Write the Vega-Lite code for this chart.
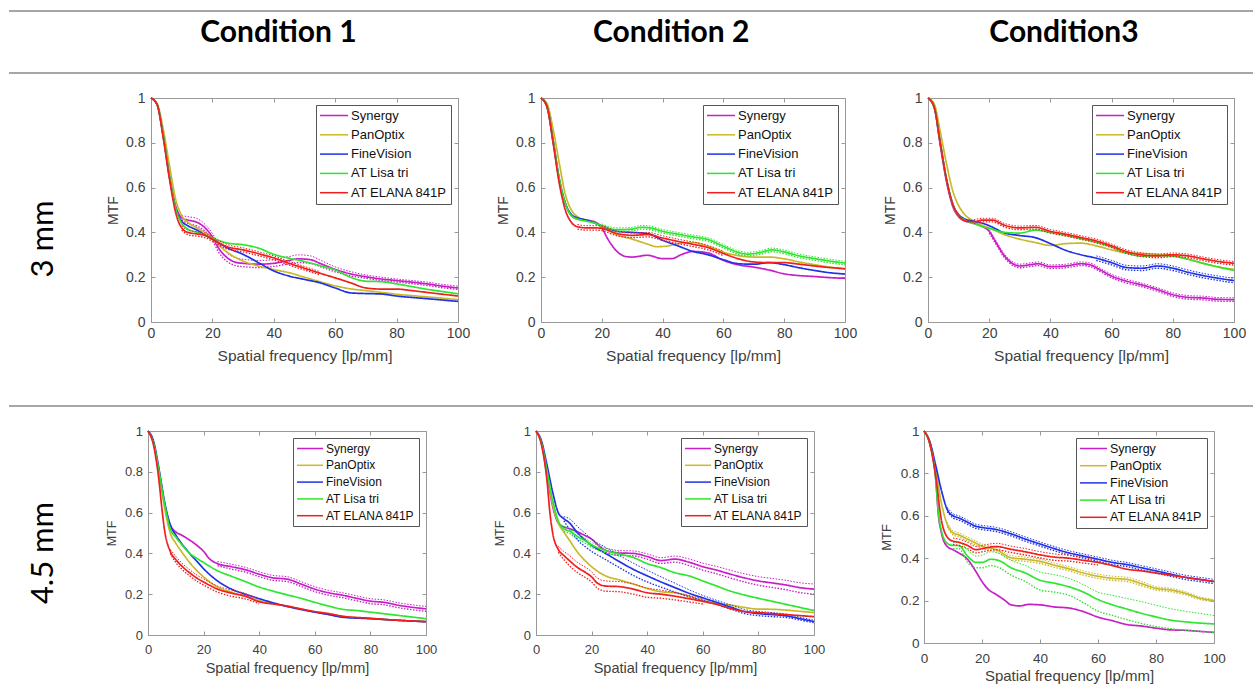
{
"$schema": "https://vega.github.io/schema/vega-lite/v6.json",
"background": "white",
"padding": {"left": 8, "top": 10, "right": 0, "bottom": 0},
"config": {
  "view": {"stroke": null},
  "axis": {"grid": false, "domainColor": "#999999", "tickColor": "#999999", "labelColor": "#404040", "titleColor": "#404040", "labelFont": "Liberation Sans", "titleFont": "Liberation Sans", "titleFontWeight": "normal", "tickSize": -4, "labelFlush": false, "labelOverlap": false},
  "legend": {"orient": "top-right", "offset": 7, "padding": 4, "strokeColor": "#555555", "fillColor": "white", "labelFont": "Liberation Sans", "labelColor": "#111111", "symbolStrokeWidth": 1.5, "symbolSize": 121, "symbolOffset": 0}
},
"datasets": {
"a1": [
{"s":"Synergy","f":0,"m":1},{"s":"Synergy","f":2,"m":0.97},{"s":"Synergy","f":4,"m":0.83},{"s":"Synergy","f":6,"m":0.65},{"s":"Synergy","f":8,"m":0.52},
{"s":"Synergy","f":10,"m":0.465,"lo":0.455,"hi":0.475},{"s":"Synergy","f":12,"m":0.455,"lo":0.44,"hi":0.47},{"s":"Synergy","f":15,"m":0.445,"lo":0.428,"hi":0.462},{"s":"Synergy","f":18,"m":0.415,"lo":0.4,"hi":0.43},{"s":"Synergy","f":20,"m":0.38,"lo":0.365,"hi":0.395},{"s":"Synergy","f":22,"m":0.33,"lo":0.312,"hi":0.35},{"s":"Synergy","f":25,"m":0.285,"lo":0.268,"hi":0.305},{"s":"Synergy","f":28,"m":0.265,"lo":0.25,"hi":0.285},{"s":"Synergy","f":30,"m":0.262,"lo":0.247,"hi":0.28},{"s":"Synergy","f":35,"m":0.258,"lo":0.243,"hi":0.275},{"s":"Synergy","f":40,"m":0.262,"lo":0.248,"hi":0.278},{"s":"Synergy","f":45,"m":0.275,"lo":0.26,"hi":0.292},{"s":"Synergy","f":48,"m":0.282,"lo":0.265,"hi":0.3},{"s":"Synergy","f":52,"m":0.278,"lo":0.262,"hi":0.295},{"s":"Synergy","f":55,"m":0.262,"lo":0.248,"hi":0.277},{"s":"Synergy","f":60,"m":0.235,"lo":0.224,"hi":0.246},{"s":"Synergy","f":65,"m":0.215,"lo":0.206,"hi":0.225},{"s":"Synergy","f":70,"m":0.202,"lo":0.195,"hi":0.21},{"s":"Synergy","f":75,"m":0.192,"lo":0.185,"hi":0.2},{"s":"Synergy","f":80,"m":0.185,"lo":0.178,"hi":0.192},{"s":"Synergy","f":85,"m":0.178,"lo":0.171,"hi":0.185},{"s":"Synergy","f":90,"m":0.17,"lo":0.163,"hi":0.178},{"s":"Synergy","f":95,"m":0.16,"lo":0.153,"hi":0.168},{"s":"Synergy","f":100,"m":0.152,"lo":0.145,"hi":0.16},
{"s":"PanOptix","f":0,"m":1},{"s":"PanOptix","f":2,"m":0.975},{"s":"PanOptix","f":4,"m":0.86},{"s":"PanOptix","f":6,"m":0.7},{"s":"PanOptix","f":8,"m":0.55},{"s":"PanOptix","f":10,"m":0.475},{"s":"PanOptix","f":12,"m":0.445},{"s":"PanOptix","f":15,"m":0.42},{"s":"PanOptix","f":18,"m":0.395},{"s":"PanOptix","f":20,"m":0.37},{"s":"PanOptix","f":25,"m":0.31},{"s":"PanOptix","f":30,"m":0.272},{"s":"PanOptix","f":35,"m":0.25},{"s":"PanOptix","f":40,"m":0.234},{"s":"PanOptix","f":45,"m":0.22},{"s":"PanOptix","f":50,"m":0.2},{"s":"PanOptix","f":55,"m":0.18},{"s":"PanOptix","f":60,"m":0.162},{"s":"PanOptix","f":65,"m":0.148},{"s":"PanOptix","f":70,"m":0.14},{"s":"PanOptix","f":75,"m":0.132},{"s":"PanOptix","f":80,"m":0.124},{"s":"PanOptix","f":90,"m":0.112},{"s":"PanOptix","f":100,"m":0.1},
{"s":"FineVision","f":0,"m":1},{"s":"FineVision","f":2,"m":0.97},{"s":"FineVision","f":4,"m":0.83},{"s":"FineVision","f":6,"m":0.65},{"s":"FineVision","f":8,"m":0.51},{"s":"FineVision","f":10,"m":0.45},{"s":"FineVision","f":12,"m":0.43},{"s":"FineVision","f":15,"m":0.41},{"s":"FineVision","f":18,"m":0.385},{"s":"FineVision","f":20,"m":0.37},{"s":"FineVision","f":25,"m":0.33},{"s":"FineVision","f":30,"m":0.302},{"s":"FineVision","f":35,"m":0.265},{"s":"FineVision","f":40,"m":0.228},{"s":"FineVision","f":45,"m":0.205},{"s":"FineVision","f":50,"m":0.19},{"s":"FineVision","f":55,"m":0.175},{"s":"FineVision","f":60,"m":0.152},{"s":"FineVision","f":65,"m":0.13},{"s":"FineVision","f":70,"m":0.127},{"s":"FineVision","f":75,"m":0.125},{"s":"FineVision","f":80,"m":0.116},{"s":"FineVision","f":90,"m":0.104},{"s":"FineVision","f":100,"m":0.092},
{"s":"AT Lisa tri","f":0,"m":1},{"s":"AT Lisa tri","f":2,"m":0.97},{"s":"AT Lisa tri","f":4,"m":0.83},{"s":"AT Lisa tri","f":6,"m":0.65},{"s":"AT Lisa tri","f":8,"m":0.51},{"s":"AT Lisa tri","f":10,"m":0.44},{"s":"AT Lisa tri","f":12,"m":0.415},{"s":"AT Lisa tri","f":15,"m":0.4},{"s":"AT Lisa tri","f":18,"m":0.385},{"s":"AT Lisa tri","f":20,"m":0.375},{"s":"AT Lisa tri","f":25,"m":0.352},{"s":"AT Lisa tri","f":30,"m":0.345},{"s":"AT Lisa tri","f":35,"m":0.33},{"s":"AT Lisa tri","f":40,"m":0.302},{"s":"AT Lisa tri","f":45,"m":0.285},{"s":"AT Lisa tri","f":50,"m":0.27},{"s":"AT Lisa tri","f":55,"m":0.252},{"s":"AT Lisa tri","f":60,"m":0.232},{"s":"AT Lisa tri","f":65,"m":0.2},{"s":"AT Lisa tri","f":70,"m":0.182},{"s":"AT Lisa tri","f":75,"m":0.18},{"s":"AT Lisa tri","f":80,"m":0.17},{"s":"AT Lisa tri","f":85,"m":0.158},{"s":"AT Lisa tri","f":90,"m":0.146},{"s":"AT Lisa tri","f":95,"m":0.136},{"s":"AT Lisa tri","f":100,"m":0.126},
{"s":"AT ELANA 841P","f":0,"m":1},{"s":"AT ELANA 841P","f":2,"m":0.97},{"s":"AT ELANA 841P","f":4,"m":0.82},{"s":"AT ELANA 841P","f":6,"m":0.64},{"s":"AT ELANA 841P","f":8,"m":0.49},{"s":"AT ELANA 841P","f":10,"m":0.42,"lo":0.41,"hi":0.43},{"s":"AT ELANA 841P","f":12,"m":0.4,"lo":0.39,"hi":0.41},{"s":"AT ELANA 841P","f":15,"m":0.393,"lo":0.383,"hi":0.403},{"s":"AT ELANA 841P","f":18,"m":0.385,"lo":0.375,"hi":0.395},{"s":"AT ELANA 841P","f":20,"m":0.37,"lo":0.36,"hi":0.38},{"s":"AT ELANA 841P","f":25,"m":0.335,"lo":0.325,"hi":0.345},{"s":"AT ELANA 841P","f":30,"m":0.322,"lo":0.313,"hi":0.331},{"s":"AT ELANA 841P","f":35,"m":0.305,"lo":0.296,"hi":0.314},{"s":"AT ELANA 841P","f":40,"m":0.286,"lo":0.277,"hi":0.295},{"s":"AT ELANA 841P","f":45,"m":0.262,"lo":0.254,"hi":0.27},{"s":"AT ELANA 841P","f":50,"m":0.24,"lo":0.232,"hi":0.248},{"s":"AT ELANA 841P","f":55,"m":0.218,"lo":0.211,"hi":0.225},{"s":"AT ELANA 841P","f":60,"m":0.197},{"s":"AT ELANA 841P","f":65,"m":0.175},{"s":"AT ELANA 841P","f":70,"m":0.152},{"s":"AT ELANA 841P","f":75,"m":0.147},{"s":"AT ELANA 841P","f":80,"m":0.147},{"s":"AT ELANA 841P","f":85,"m":0.14},{"s":"AT ELANA 841P","f":90,"m":0.132},{"s":"AT ELANA 841P","f":100,"m":0.116}
],
"a2": [
{"s":"Synergy","f":0,"m":1},{"s":"Synergy","f":2,"m":0.96},{"s":"Synergy","f":4,"m":0.8},{"s":"Synergy","f":6,"m":0.63},{"s":"Synergy","f":8,"m":0.53},{"s":"Synergy","f":10,"m":0.475},{"s":"Synergy","f":12,"m":0.46},{"s":"Synergy","f":15,"m":0.455},{"s":"Synergy","f":18,"m":0.445},{"s":"Synergy","f":20,"m":0.42},{"s":"Synergy","f":22,"m":0.37},{"s":"Synergy","f":25,"m":0.315},{"s":"Synergy","f":28,"m":0.292},{"s":"Synergy","f":30,"m":0.29},{"s":"Synergy","f":35,"m":0.298},{"s":"Synergy","f":40,"m":0.283},{"s":"Synergy","f":43,"m":0.283},{"s":"Synergy","f":46,"m":0.3},{"s":"Synergy","f":50,"m":0.315},{"s":"Synergy","f":55,"m":0.308},{"s":"Synergy","f":60,"m":0.275},{"s":"Synergy","f":65,"m":0.255},{"s":"Synergy","f":70,"m":0.245},{"s":"Synergy","f":75,"m":0.232},{"s":"Synergy","f":80,"m":0.215},{"s":"Synergy","f":85,"m":0.207},{"s":"Synergy","f":90,"m":0.203},{"s":"Synergy","f":95,"m":0.198},{"s":"Synergy","f":100,"m":0.195},
{"s":"PanOptix","f":0,"m":1},{"s":"PanOptix","f":2,"m":0.975},{"s":"PanOptix","f":4,"m":0.86},{"s":"PanOptix","f":6,"m":0.71},{"s":"PanOptix","f":8,"m":0.57},{"s":"PanOptix","f":10,"m":0.5},{"s":"PanOptix","f":12,"m":0.47},{"s":"PanOptix","f":15,"m":0.455},{"s":"PanOptix","f":18,"m":0.44},{"s":"PanOptix","f":20,"m":0.425},{"s":"PanOptix","f":25,"m":0.39},{"s":"PanOptix","f":30,"m":0.37},{"s":"PanOptix","f":35,"m":0.348},{"s":"PanOptix","f":38,"m":0.336},{"s":"PanOptix","f":42,"m":0.34},{"s":"PanOptix","f":46,"m":0.352},{"s":"PanOptix","f":50,"m":0.355},{"s":"PanOptix","f":55,"m":0.338},{"s":"PanOptix","f":60,"m":0.312},{"s":"PanOptix","f":65,"m":0.296},{"s":"PanOptix","f":70,"m":0.29},{"s":"PanOptix","f":75,"m":0.29},{"s":"PanOptix","f":80,"m":0.282},{"s":"PanOptix","f":85,"m":0.268},{"s":"PanOptix","f":90,"m":0.256},{"s":"PanOptix","f":95,"m":0.245},{"s":"PanOptix","f":100,"m":0.237},
{"s":"FineVision","f":0,"m":1},{"s":"FineVision","f":2,"m":0.96},{"s":"FineVision","f":4,"m":0.81},{"s":"FineVision","f":6,"m":0.64},{"s":"FineVision","f":8,"m":0.53},{"s":"FineVision","f":10,"m":0.48},{"s":"FineVision","f":12,"m":0.465},{"s":"FineVision","f":15,"m":0.455},{"s":"FineVision","f":18,"m":0.44},{"s":"FineVision","f":20,"m":0.43},{"s":"FineVision","f":25,"m":0.405},{"s":"FineVision","f":30,"m":0.4},{"s":"FineVision","f":35,"m":0.395},{"s":"FineVision","f":40,"m":0.365},{"s":"FineVision","f":45,"m":0.34},{"s":"FineVision","f":50,"m":0.315},{"s":"FineVision","f":55,"m":0.3},{"s":"FineVision","f":60,"m":0.278},{"s":"FineVision","f":65,"m":0.26},{"s":"FineVision","f":70,"m":0.258},{"s":"FineVision","f":75,"m":0.265},{"s":"FineVision","f":80,"m":0.256},{"s":"FineVision","f":85,"m":0.242},{"s":"FineVision","f":90,"m":0.23},{"s":"FineVision","f":95,"m":0.22},{"s":"FineVision","f":100,"m":0.214},
{"s":"AT Lisa tri","f":0,"m":1},{"s":"AT Lisa tri","f":2,"m":0.96},{"s":"AT Lisa tri","f":4,"m":0.81},{"s":"AT Lisa tri","f":6,"m":0.64},{"s":"AT Lisa tri","f":8,"m":0.53},{"s":"AT Lisa tri","f":10,"m":0.475},{"s":"AT Lisa tri","f":12,"m":0.46},{"s":"AT Lisa tri","f":15,"m":0.45},{"s":"AT Lisa tri","f":18,"m":0.44},{"s":"AT Lisa tri","f":20,"m":0.43,"lo":0.422,"hi":0.438},{"s":"AT Lisa tri","f":25,"m":0.412,"lo":0.404,"hi":0.42},{"s":"AT Lisa tri","f":30,"m":0.415,"lo":0.407,"hi":0.423},{"s":"AT Lisa tri","f":33,"m":0.423,"lo":0.415,"hi":0.431},{"s":"AT Lisa tri","f":36,"m":0.42,"lo":0.412,"hi":0.428},{"s":"AT Lisa tri","f":40,"m":0.405,"lo":0.397,"hi":0.413},{"s":"AT Lisa tri","f":45,"m":0.392,"lo":0.384,"hi":0.4},{"s":"AT Lisa tri","f":50,"m":0.38,"lo":0.372,"hi":0.388},{"s":"AT Lisa tri","f":55,"m":0.368,"lo":0.36,"hi":0.376},{"s":"AT Lisa tri","f":60,"m":0.338,"lo":0.33,"hi":0.346},{"s":"AT Lisa tri","f":65,"m":0.31,"lo":0.302,"hi":0.318},{"s":"AT Lisa tri","f":68,"m":0.303,"lo":0.295,"hi":0.311},{"s":"AT Lisa tri","f":72,"m":0.31,"lo":0.302,"hi":0.318},{"s":"AT Lisa tri","f":76,"m":0.322,"lo":0.314,"hi":0.33},{"s":"AT Lisa tri","f":80,"m":0.313,"lo":0.305,"hi":0.321},{"s":"AT Lisa tri","f":85,"m":0.295,"lo":0.287,"hi":0.303},{"s":"AT Lisa tri","f":90,"m":0.283,"lo":0.275,"hi":0.291},{"s":"AT Lisa tri","f":95,"m":0.272,"lo":0.264,"hi":0.28},{"s":"AT Lisa tri","f":100,"m":0.263,"lo":0.255,"hi":0.271},
{"s":"AT ELANA 841P","f":0,"m":1},{"s":"AT ELANA 841P","f":2,"m":0.96},{"s":"AT ELANA 841P","f":4,"m":0.8},{"s":"AT ELANA 841P","f":6,"m":0.62},{"s":"AT ELANA 841P","f":8,"m":0.5},{"s":"AT ELANA 841P","f":10,"m":0.445},{"s":"AT ELANA 841P","f":12,"m":0.425,"lo":0.415,"hi":0.435},{"s":"AT ELANA 841P","f":15,"m":0.42,"lo":0.41,"hi":0.43},{"s":"AT ELANA 841P","f":18,"m":0.42,"lo":0.41,"hi":0.43},{"s":"AT ELANA 841P","f":20,"m":0.418,"lo":0.408,"hi":0.428},{"s":"AT ELANA 841P","f":25,"m":0.395,"lo":0.385,"hi":0.405},{"s":"AT ELANA 841P","f":30,"m":0.387,"lo":0.377,"hi":0.397},{"s":"AT ELANA 841P","f":35,"m":0.39,"lo":0.38,"hi":0.4},{"s":"AT ELANA 841P","f":40,"m":0.375,"lo":0.365,"hi":0.385},{"s":"AT ELANA 841P","f":45,"m":0.36,"lo":0.35,"hi":0.37},{"s":"AT ELANA 841P","f":50,"m":0.347,"lo":0.337,"hi":0.357},{"s":"AT ELANA 841P","f":55,"m":0.332,"lo":0.322,"hi":0.342},{"s":"AT ELANA 841P","f":60,"m":0.306,"lo":0.296,"hi":0.316},{"s":"AT ELANA 841P","f":65,"m":0.282},{"s":"AT ELANA 841P","f":70,"m":0.268},{"s":"AT ELANA 841P","f":75,"m":0.265},{"s":"AT ELANA 841P","f":80,"m":0.265},{"s":"AT ELANA 841P","f":85,"m":0.258},{"s":"AT ELANA 841P","f":90,"m":0.25},{"s":"AT ELANA 841P","f":95,"m":0.243},{"s":"AT ELANA 841P","f":100,"m":0.238}
],
"a3": [
{"s":"Synergy","f":0,"m":1},{"s":"Synergy","f":2,"m":0.96},{"s":"Synergy","f":4,"m":0.79},{"s":"Synergy","f":6,"m":0.63},{"s":"Synergy","f":8,"m":0.52},{"s":"Synergy","f":10,"m":0.47},{"s":"Synergy","f":12,"m":0.452},{"s":"Synergy","f":15,"m":0.44},{"s":"Synergy","f":18,"m":0.425},{"s":"Synergy","f":20,"m":0.405,"lo":0.397,"hi":0.413},{"s":"Synergy","f":22,"m":0.36,"lo":0.352,"hi":0.368},{"s":"Synergy","f":25,"m":0.295,"lo":0.287,"hi":0.303},{"s":"Synergy","f":28,"m":0.258,"lo":0.25,"hi":0.266},{"s":"Synergy","f":30,"m":0.25,"lo":0.242,"hi":0.258},{"s":"Synergy","f":33,"m":0.255,"lo":0.247,"hi":0.263},{"s":"Synergy","f":36,"m":0.26,"lo":0.252,"hi":0.268},{"s":"Synergy","f":40,"m":0.247,"lo":0.239,"hi":0.255},{"s":"Synergy","f":45,"m":0.25,"lo":0.242,"hi":0.258},{"s":"Synergy","f":50,"m":0.26,"lo":0.252,"hi":0.268},{"s":"Synergy","f":53,"m":0.255,"lo":0.247,"hi":0.263},{"s":"Synergy","f":56,"m":0.235,"lo":0.227,"hi":0.243},{"s":"Synergy","f":60,"m":0.205,"lo":0.197,"hi":0.213},{"s":"Synergy","f":65,"m":0.182,"lo":0.174,"hi":0.19},{"s":"Synergy","f":70,"m":0.165,"lo":0.157,"hi":0.173},{"s":"Synergy","f":75,"m":0.145,"lo":0.137,"hi":0.153},{"s":"Synergy","f":80,"m":0.122,"lo":0.114,"hi":0.13},{"s":"Synergy","f":85,"m":0.11,"lo":0.102,"hi":0.118},{"s":"Synergy","f":90,"m":0.107,"lo":0.099,"hi":0.115},{"s":"Synergy","f":95,"m":0.101,"lo":0.093,"hi":0.109},{"s":"Synergy","f":100,"m":0.1,"lo":0.092,"hi":0.108},
{"s":"PanOptix","f":0,"m":1},{"s":"PanOptix","f":2,"m":0.975},{"s":"PanOptix","f":4,"m":0.85},{"s":"PanOptix","f":6,"m":0.71},{"s":"PanOptix","f":8,"m":0.59},{"s":"PanOptix","f":10,"m":0.52},{"s":"PanOptix","f":12,"m":0.48},{"s":"PanOptix","f":15,"m":0.45},{"s":"PanOptix","f":18,"m":0.43},{"s":"PanOptix","f":20,"m":0.42},{"s":"PanOptix","f":25,"m":0.39},{"s":"PanOptix","f":30,"m":0.37},{"s":"PanOptix","f":35,"m":0.355},{"s":"PanOptix","f":40,"m":0.342},{"s":"PanOptix","f":45,"m":0.35},{"s":"PanOptix","f":50,"m":0.352},{"s":"PanOptix","f":55,"m":0.34},{"s":"PanOptix","f":60,"m":0.322},{"s":"PanOptix","f":65,"m":0.308},{"s":"PanOptix","f":70,"m":0.306},{"s":"PanOptix","f":75,"m":0.302},{"s":"PanOptix","f":80,"m":0.296},{"s":"PanOptix","f":85,"m":0.28},{"s":"PanOptix","f":90,"m":0.262},{"s":"PanOptix","f":95,"m":0.246},{"s":"PanOptix","f":100,"m":0.235},
{"s":"FineVision","f":0,"m":1},{"s":"FineVision","f":2,"m":0.96},{"s":"FineVision","f":4,"m":0.8},{"s":"FineVision","f":6,"m":0.64},{"s":"FineVision","f":8,"m":0.53},{"s":"FineVision","f":10,"m":0.48},{"s":"FineVision","f":12,"m":0.46},{"s":"FineVision","f":15,"m":0.45},{"s":"FineVision","f":18,"m":0.44},{"s":"FineVision","f":20,"m":0.43},{"s":"FineVision","f":25,"m":0.398},{"s":"FineVision","f":30,"m":0.386},{"s":"FineVision","f":35,"m":0.377},{"s":"FineVision","f":40,"m":0.35},{"s":"FineVision","f":45,"m":0.32},{"s":"FineVision","f":50,"m":0.3},{"s":"FineVision","f":55,"m":0.285,"lo":0.275,"hi":0.295},{"s":"FineVision","f":60,"m":0.265,"lo":0.255,"hi":0.275},{"s":"FineVision","f":65,"m":0.243,"lo":0.233,"hi":0.253},{"s":"FineVision","f":70,"m":0.24,"lo":0.23,"hi":0.25},{"s":"FineVision","f":75,"m":0.25,"lo":0.24,"hi":0.26},{"s":"FineVision","f":80,"m":0.24,"lo":0.23,"hi":0.25},{"s":"FineVision","f":85,"m":0.222,"lo":0.212,"hi":0.232},{"s":"FineVision","f":90,"m":0.207,"lo":0.197,"hi":0.217},{"s":"FineVision","f":95,"m":0.195,"lo":0.185,"hi":0.205},{"s":"FineVision","f":100,"m":0.185,"lo":0.175,"hi":0.195},
{"s":"AT Lisa tri","f":0,"m":1},{"s":"AT Lisa tri","f":2,"m":0.96},{"s":"AT Lisa tri","f":4,"m":0.8},{"s":"AT Lisa tri","f":6,"m":0.64},{"s":"AT Lisa tri","f":8,"m":0.53},{"s":"AT Lisa tri","f":10,"m":0.475},{"s":"AT Lisa tri","f":12,"m":0.455},{"s":"AT Lisa tri","f":15,"m":0.44},{"s":"AT Lisa tri","f":18,"m":0.425},{"s":"AT Lisa tri","f":20,"m":0.418},{"s":"AT Lisa tri","f":25,"m":0.4},{"s":"AT Lisa tri","f":30,"m":0.397},{"s":"AT Lisa tri","f":35,"m":0.41},{"s":"AT Lisa tri","f":40,"m":0.4},{"s":"AT Lisa tri","f":45,"m":0.387},{"s":"AT Lisa tri","f":50,"m":0.372},{"s":"AT Lisa tri","f":55,"m":0.356},{"s":"AT Lisa tri","f":60,"m":0.335},{"s":"AT Lisa tri","f":65,"m":0.307},{"s":"AT Lisa tri","f":70,"m":0.294},{"s":"AT Lisa tri","f":75,"m":0.296},{"s":"AT Lisa tri","f":80,"m":0.294},{"s":"AT Lisa tri","f":85,"m":0.28},{"s":"AT Lisa tri","f":90,"m":0.262},{"s":"AT Lisa tri","f":95,"m":0.245},{"s":"AT Lisa tri","f":100,"m":0.23},
{"s":"AT ELANA 841P","f":0,"m":1},{"s":"AT ELANA 841P","f":2,"m":0.96},{"s":"AT ELANA 841P","f":4,"m":0.8},{"s":"AT ELANA 841P","f":6,"m":0.64},{"s":"AT ELANA 841P","f":8,"m":0.53},{"s":"AT ELANA 841P","f":10,"m":0.475},{"s":"AT ELANA 841P","f":12,"m":0.452},{"s":"AT ELANA 841P","f":15,"m":0.448,"lo":0.44,"hi":0.456},{"s":"AT ELANA 841P","f":18,"m":0.455,"lo":0.447,"hi":0.463},{"s":"AT ELANA 841P","f":21,"m":0.455,"lo":0.447,"hi":0.463},{"s":"AT ELANA 841P","f":25,"m":0.432,"lo":0.424,"hi":0.44},{"s":"AT ELANA 841P","f":30,"m":0.42,"lo":0.412,"hi":0.428},{"s":"AT ELANA 841P","f":35,"m":0.423,"lo":0.415,"hi":0.431},{"s":"AT ELANA 841P","f":40,"m":0.405,"lo":0.397,"hi":0.413},{"s":"AT ELANA 841P","f":45,"m":0.392,"lo":0.384,"hi":0.4},{"s":"AT ELANA 841P","f":50,"m":0.377,"lo":0.369,"hi":0.385},{"s":"AT ELANA 841P","f":55,"m":0.362,"lo":0.354,"hi":0.37},{"s":"AT ELANA 841P","f":60,"m":0.34,"lo":0.332,"hi":0.348},{"s":"AT ELANA 841P","f":65,"m":0.314,"lo":0.306,"hi":0.322},{"s":"AT ELANA 841P","f":70,"m":0.3,"lo":0.292,"hi":0.308},{"s":"AT ELANA 841P","f":75,"m":0.295,"lo":0.287,"hi":0.303},{"s":"AT ELANA 841P","f":80,"m":0.3,"lo":0.292,"hi":0.308},{"s":"AT ELANA 841P","f":85,"m":0.295,"lo":0.287,"hi":0.303},{"s":"AT ELANA 841P","f":90,"m":0.282,"lo":0.274,"hi":0.29},{"s":"AT ELANA 841P","f":95,"m":0.27,"lo":0.262,"hi":0.278},{"s":"AT ELANA 841P","f":100,"m":0.262,"lo":0.254,"hi":0.27}
],
"b1": [
{"s":"Synergy","f":0,"m":1},{"s":"Synergy","f":2,"m":0.94},{"s":"Synergy","f":4,"m":0.8},{"s":"Synergy","f":6,"m":0.64},{"s":"Synergy","f":8,"m":0.54},{"s":"Synergy","f":10,"m":0.505},{"s":"Synergy","f":12,"m":0.49},{"s":"Synergy","f":15,"m":0.465},{"s":"Synergy","f":18,"m":0.435},{"s":"Synergy","f":20,"m":0.41},{"s":"Synergy","f":22,"m":0.375},{"s":"Synergy","f":25,"m":0.35,"lo":0.34,"hi":0.36},{"s":"Synergy","f":30,"m":0.335,"lo":0.323,"hi":0.347},{"s":"Synergy","f":35,"m":0.32,"lo":0.308,"hi":0.332},{"s":"Synergy","f":40,"m":0.298,"lo":0.286,"hi":0.31},{"s":"Synergy","f":45,"m":0.28,"lo":0.268,"hi":0.292},{"s":"Synergy","f":50,"m":0.274,"lo":0.262,"hi":0.286},{"s":"Synergy","f":55,"m":0.25,"lo":0.238,"hi":0.262},{"s":"Synergy","f":60,"m":0.225,"lo":0.213,"hi":0.237},{"s":"Synergy","f":65,"m":0.207,"lo":0.195,"hi":0.219},{"s":"Synergy","f":70,"m":0.195,"lo":0.183,"hi":0.207},{"s":"Synergy","f":75,"m":0.18,"lo":0.168,"hi":0.192},{"s":"Synergy","f":80,"m":0.166,"lo":0.154,"hi":0.178},{"s":"Synergy","f":85,"m":0.16,"lo":0.148,"hi":0.172},{"s":"Synergy","f":90,"m":0.146,"lo":0.134,"hi":0.158},{"s":"Synergy","f":95,"m":0.136,"lo":0.124,"hi":0.148},{"s":"Synergy","f":100,"m":0.128,"lo":0.116,"hi":0.14},
{"s":"PanOptix","f":0,"m":1},{"s":"PanOptix","f":2,"m":0.94},{"s":"PanOptix","f":4,"m":0.79},{"s":"PanOptix","f":6,"m":0.62},{"s":"PanOptix","f":8,"m":0.5},{"s":"PanOptix","f":10,"m":0.45},{"s":"PanOptix","f":12,"m":0.41},{"s":"PanOptix","f":15,"m":0.355},{"s":"PanOptix","f":18,"m":0.31},{"s":"PanOptix","f":20,"m":0.285},{"s":"PanOptix","f":25,"m":0.235},{"s":"PanOptix","f":30,"m":0.21},{"s":"PanOptix","f":35,"m":0.19},{"s":"PanOptix","f":40,"m":0.168},{"s":"PanOptix","f":45,"m":0.155},{"s":"PanOptix","f":50,"m":0.142},{"s":"PanOptix","f":55,"m":0.127},{"s":"PanOptix","f":60,"m":0.113},{"s":"PanOptix","f":65,"m":0.102},{"s":"PanOptix","f":70,"m":0.092},{"s":"PanOptix","f":80,"m":0.08},{"s":"PanOptix","f":90,"m":0.072},{"s":"PanOptix","f":100,"m":0.065},
{"s":"FineVision","f":0,"m":1},{"s":"FineVision","f":2,"m":0.95},{"s":"FineVision","f":4,"m":0.81},{"s":"FineVision","f":6,"m":0.65},{"s":"FineVision","f":8,"m":0.54},{"s":"FineVision","f":10,"m":0.49},{"s":"FineVision","f":12,"m":0.45},{"s":"FineVision","f":15,"m":0.4},{"s":"FineVision","f":18,"m":0.355},{"s":"FineVision","f":20,"m":0.325},{"s":"FineVision","f":25,"m":0.265},{"s":"FineVision","f":30,"m":0.225},{"s":"FineVision","f":35,"m":0.2},{"s":"FineVision","f":40,"m":0.178},{"s":"FineVision","f":45,"m":0.158},{"s":"FineVision","f":50,"m":0.14},{"s":"FineVision","f":55,"m":0.125},{"s":"FineVision","f":60,"m":0.112},{"s":"FineVision","f":65,"m":0.1},{"s":"FineVision","f":70,"m":0.087},{"s":"FineVision","f":80,"m":0.08},{"s":"FineVision","f":90,"m":0.072},{"s":"FineVision","f":100,"m":0.065},
{"s":"AT Lisa tri","f":0,"m":1},{"s":"AT Lisa tri","f":2,"m":0.94},{"s":"AT Lisa tri","f":4,"m":0.8},{"s":"AT Lisa tri","f":6,"m":0.64},{"s":"AT Lisa tri","f":8,"m":0.52},{"s":"AT Lisa tri","f":10,"m":0.48},{"s":"AT Lisa tri","f":12,"m":0.445},{"s":"AT Lisa tri","f":15,"m":0.4},{"s":"AT Lisa tri","f":18,"m":0.372},{"s":"AT Lisa tri","f":20,"m":0.355},{"s":"AT Lisa tri","f":25,"m":0.315},{"s":"AT Lisa tri","f":30,"m":0.288},{"s":"AT Lisa tri","f":35,"m":0.262},{"s":"AT Lisa tri","f":40,"m":0.235},{"s":"AT Lisa tri","f":45,"m":0.215},{"s":"AT Lisa tri","f":50,"m":0.197},{"s":"AT Lisa tri","f":55,"m":0.18},{"s":"AT Lisa tri","f":60,"m":0.16},{"s":"AT Lisa tri","f":65,"m":0.142},{"s":"AT Lisa tri","f":70,"m":0.126},{"s":"AT Lisa tri","f":75,"m":0.12},{"s":"AT Lisa tri","f":80,"m":0.112},{"s":"AT Lisa tri","f":85,"m":0.104},{"s":"AT Lisa tri","f":90,"m":0.096},{"s":"AT Lisa tri","f":95,"m":0.088},{"s":"AT Lisa tri","f":100,"m":0.08},
{"s":"AT ELANA 841P","f":0,"m":1},{"s":"AT ELANA 841P","f":2,"m":0.93},{"s":"AT ELANA 841P","f":4,"m":0.75},{"s":"AT ELANA 841P","f":5,"m":0.62},{"s":"AT ELANA 841P","f":6,"m":0.51},{"s":"AT ELANA 841P","f":8,"m":0.41,"lo":0.4,"hi":0.42},{"s":"AT ELANA 841P","f":10,"m":0.37,"lo":0.355,"hi":0.385},{"s":"AT ELANA 841P","f":12,"m":0.34,"lo":0.325,"hi":0.355},{"s":"AT ELANA 841P","f":15,"m":0.305,"lo":0.29,"hi":0.32},{"s":"AT ELANA 841P","f":18,"m":0.275,"lo":0.26,"hi":0.29},{"s":"AT ELANA 841P","f":20,"m":0.26,"lo":0.245,"hi":0.275},{"s":"AT ELANA 841P","f":25,"m":0.225,"lo":0.21,"hi":0.24},{"s":"AT ELANA 841P","f":30,"m":0.205,"lo":0.19,"hi":0.22},{"s":"AT ELANA 841P","f":35,"m":0.19,"lo":0.177,"hi":0.203},{"s":"AT ELANA 841P","f":40,"m":0.163,"lo":0.153,"hi":0.173},{"s":"AT ELANA 841P","f":45,"m":0.152},{"s":"AT ELANA 841P","f":50,"m":0.142},{"s":"AT ELANA 841P","f":55,"m":0.128},{"s":"AT ELANA 841P","f":60,"m":0.115},{"s":"AT ELANA 841P","f":65,"m":0.105},{"s":"AT ELANA 841P","f":70,"m":0.092},{"s":"AT ELANA 841P","f":80,"m":0.082},{"s":"AT ELANA 841P","f":90,"m":0.072},{"s":"AT ELANA 841P","f":100,"m":0.066}
],
"b2": [
{"s":"Synergy","f":0,"m":1},{"s":"Synergy","f":2,"m":0.94},{"s":"Synergy","f":4,"m":0.78},{"s":"Synergy","f":6,"m":0.63},{"s":"Synergy","f":8,"m":0.55},{"s":"Synergy","f":10,"m":0.53},{"s":"Synergy","f":12,"m":0.522},{"s":"Synergy","f":15,"m":0.505},{"s":"Synergy","f":18,"m":0.485},{"s":"Synergy","f":20,"m":0.47},{"s":"Synergy","f":22,"m":0.445},{"s":"Synergy","f":25,"m":0.415,"lo":0.405,"hi":0.425},{"s":"Synergy","f":30,"m":0.402,"lo":0.39,"hi":0.414},{"s":"Synergy","f":35,"m":0.4,"lo":0.388,"hi":0.412},{"s":"Synergy","f":40,"m":0.385,"lo":0.372,"hi":0.398},{"s":"Synergy","f":45,"m":0.365,"lo":0.351,"hi":0.379},{"s":"Synergy","f":50,"m":0.372,"lo":0.357,"hi":0.387},{"s":"Synergy","f":55,"m":0.357,"lo":0.341,"hi":0.373},{"s":"Synergy","f":60,"m":0.335,"lo":0.318,"hi":0.352},{"s":"Synergy","f":65,"m":0.318,"lo":0.3,"hi":0.336},{"s":"Synergy","f":70,"m":0.298,"lo":0.279,"hi":0.317},{"s":"Synergy","f":75,"m":0.28,"lo":0.26,"hi":0.3},{"s":"Synergy","f":80,"m":0.265,"lo":0.244,"hi":0.286},{"s":"Synergy","f":85,"m":0.255,"lo":0.233,"hi":0.277},{"s":"Synergy","f":90,"m":0.245,"lo":0.222,"hi":0.268},{"s":"Synergy","f":95,"m":0.232,"lo":0.208,"hi":0.256},{"s":"Synergy","f":100,"m":0.225,"lo":0.2,"hi":0.25},
{"s":"PanOptix","f":0,"m":1},{"s":"PanOptix","f":2,"m":0.94},{"s":"PanOptix","f":4,"m":0.8},{"s":"PanOptix","f":6,"m":0.64},{"s":"PanOptix","f":8,"m":0.55},{"s":"PanOptix","f":10,"m":0.505},{"s":"PanOptix","f":12,"m":0.465},{"s":"PanOptix","f":15,"m":0.405},{"s":"PanOptix","f":18,"m":0.36},{"s":"PanOptix","f":20,"m":0.335},{"s":"PanOptix","f":25,"m":0.29},{"s":"PanOptix","f":30,"m":0.27},{"s":"PanOptix","f":35,"m":0.25},{"s":"PanOptix","f":40,"m":0.228},{"s":"PanOptix","f":45,"m":0.212},{"s":"PanOptix","f":50,"m":0.207},{"s":"PanOptix","f":55,"m":0.19},{"s":"PanOptix","f":60,"m":0.17},{"s":"PanOptix","f":65,"m":0.155},{"s":"PanOptix","f":70,"m":0.147},{"s":"PanOptix","f":75,"m":0.135},{"s":"PanOptix","f":80,"m":0.127},{"s":"PanOptix","f":85,"m":0.126},{"s":"PanOptix","f":90,"m":0.122},{"s":"PanOptix","f":95,"m":0.116},{"s":"PanOptix","f":100,"m":0.11},
{"s":"FineVision","f":0,"m":1},{"s":"FineVision","f":2,"m":0.95},{"s":"FineVision","f":4,"m":0.83},{"s":"FineVision","f":6,"m":0.7},{"s":"FineVision","f":8,"m":0.6},{"s":"FineVision","f":10,"m":0.57,"lo":0.56,"hi":0.58},{"s":"FineVision","f":12,"m":0.55,"lo":0.52,"hi":0.57},{"s":"FineVision","f":15,"m":0.5,"lo":0.465,"hi":0.53},{"s":"FineVision","f":18,"m":0.462,"lo":0.43,"hi":0.495},{"s":"FineVision","f":20,"m":0.44,"lo":0.41,"hi":0.47},{"s":"FineVision","f":25,"m":0.4,"lo":0.37,"hi":0.43},{"s":"FineVision","f":30,"m":0.36,"lo":0.33,"hi":0.39},{"s":"FineVision","f":35,"m":0.322,"lo":0.292,"hi":0.352},{"s":"FineVision","f":40,"m":0.29,"lo":0.26,"hi":0.318},{"s":"FineVision","f":45,"m":0.26,"lo":0.235,"hi":0.285},{"s":"FineVision","f":50,"m":0.232,"lo":0.21,"hi":0.254},{"s":"FineVision","f":55,"m":0.205,"lo":0.188,"hi":0.222},{"s":"FineVision","f":60,"m":0.182,"lo":0.17,"hi":0.194},{"s":"FineVision","f":65,"m":0.16,"lo":0.15,"hi":0.17},{"s":"FineVision","f":70,"m":0.137,"lo":0.127,"hi":0.147},{"s":"FineVision","f":75,"m":0.115,"lo":0.105,"hi":0.125},{"s":"FineVision","f":80,"m":0.105,"lo":0.095,"hi":0.115},{"s":"FineVision","f":85,"m":0.1,"lo":0.09,"hi":0.11},{"s":"FineVision","f":90,"m":0.094,"lo":0.086,"hi":0.102},{"s":"FineVision","f":95,"m":0.08,"lo":0.073,"hi":0.087},{"s":"FineVision","f":100,"m":0.066,"lo":0.06,"hi":0.072},
{"s":"AT Lisa tri","f":0,"m":1},{"s":"AT Lisa tri","f":2,"m":0.94},{"s":"AT Lisa tri","f":4,"m":0.8},{"s":"AT Lisa tri","f":6,"m":0.66},{"s":"AT Lisa tri","f":8,"m":0.56},{"s":"AT Lisa tri","f":10,"m":0.52,"lo":0.508,"hi":0.532},{"s":"AT Lisa tri","f":12,"m":0.51,"lo":0.498,"hi":0.522},{"s":"AT Lisa tri","f":15,"m":0.482,"lo":0.47,"hi":0.494},{"s":"AT Lisa tri","f":18,"m":0.46,"lo":0.448,"hi":0.472},{"s":"AT Lisa tri","f":20,"m":0.442,"lo":0.43,"hi":0.454},{"s":"AT Lisa tri","f":25,"m":0.415,"lo":0.403,"hi":0.427},{"s":"AT Lisa tri","f":30,"m":0.397,"lo":0.387,"hi":0.407},{"s":"AT Lisa tri","f":35,"m":0.38},{"s":"AT Lisa tri","f":40,"m":0.35},{"s":"AT Lisa tri","f":45,"m":0.33},{"s":"AT Lisa tri","f":50,"m":0.305},{"s":"AT Lisa tri","f":55,"m":0.29},{"s":"AT Lisa tri","f":60,"m":0.265},{"s":"AT Lisa tri","f":65,"m":0.24},{"s":"AT Lisa tri","f":70,"m":0.215},{"s":"AT Lisa tri","f":75,"m":0.196},{"s":"AT Lisa tri","f":80,"m":0.18},{"s":"AT Lisa tri","f":85,"m":0.165},{"s":"AT Lisa tri","f":90,"m":0.15},{"s":"AT Lisa tri","f":95,"m":0.135},{"s":"AT Lisa tri","f":100,"m":0.12},
{"s":"AT ELANA 841P","f":0,"m":1},{"s":"AT ELANA 841P","f":2,"m":0.93},{"s":"AT ELANA 841P","f":4,"m":0.75},{"s":"AT ELANA 841P","f":5,"m":0.6},{"s":"AT ELANA 841P","f":6,"m":0.5},{"s":"AT ELANA 841P","f":8,"m":0.42,"lo":0.405,"hi":0.435},{"s":"AT ELANA 841P","f":10,"m":0.39,"lo":0.37,"hi":0.41},{"s":"AT ELANA 841P","f":12,"m":0.365,"lo":0.34,"hi":0.39},{"s":"AT ELANA 841P","f":15,"m":0.33,"lo":0.305,"hi":0.355},{"s":"AT ELANA 841P","f":18,"m":0.305,"lo":0.28,"hi":0.33},{"s":"AT ELANA 841P","f":20,"m":0.285,"lo":0.26,"hi":0.31},{"s":"AT ELANA 841P","f":22,"m":0.255,"lo":0.23,"hi":0.28},{"s":"AT ELANA 841P","f":25,"m":0.24,"lo":0.215,"hi":0.265},{"s":"AT ELANA 841P","f":30,"m":0.237,"lo":0.212,"hi":0.262},{"s":"AT ELANA 841P","f":35,"m":0.225,"lo":0.2,"hi":0.25},{"s":"AT ELANA 841P","f":40,"m":0.207,"lo":0.185,"hi":0.23},{"s":"AT ELANA 841P","f":45,"m":0.2,"lo":0.18,"hi":0.22},{"s":"AT ELANA 841P","f":50,"m":0.19,"lo":0.172,"hi":0.208},{"s":"AT ELANA 841P","f":55,"m":0.178,"lo":0.162,"hi":0.194},{"s":"AT ELANA 841P","f":60,"m":0.165,"lo":0.152,"hi":0.178},{"s":"AT ELANA 841P","f":65,"m":0.15},{"s":"AT ELANA 841P","f":70,"m":0.13},{"s":"AT ELANA 841P","f":75,"m":0.115},{"s":"AT ELANA 841P","f":80,"m":0.11},{"s":"AT ELANA 841P","f":85,"m":0.105},{"s":"AT ELANA 841P","f":90,"m":0.1},{"s":"AT ELANA 841P","f":95,"m":0.095},{"s":"AT ELANA 841P","f":100,"m":0.09}
],
"b3": [
{"s":"Synergy","f":0,"m":1},{"s":"Synergy","f":2,"m":0.94},{"s":"Synergy","f":4,"m":0.78},{"s":"Synergy","f":5,"m":0.6},{"s":"Synergy","f":6,"m":0.52},{"s":"Synergy","f":8,"m":0.455},{"s":"Synergy","f":10,"m":0.44},{"s":"Synergy","f":12,"m":0.425},{"s":"Synergy","f":15,"m":0.395},{"s":"Synergy","f":18,"m":0.335},{"s":"Synergy","f":20,"m":0.29},{"s":"Synergy","f":22,"m":0.255},{"s":"Synergy","f":25,"m":0.228},{"s":"Synergy","f":28,"m":0.2},{"s":"Synergy","f":30,"m":0.18},{"s":"Synergy","f":33,"m":0.175},{"s":"Synergy","f":36,"m":0.182},{"s":"Synergy","f":40,"m":0.18},{"s":"Synergy","f":45,"m":0.17},{"s":"Synergy","f":50,"m":0.165},{"s":"Synergy","f":55,"m":0.148},{"s":"Synergy","f":60,"m":0.122},{"s":"Synergy","f":65,"m":0.105},{"s":"Synergy","f":70,"m":0.087},{"s":"Synergy","f":75,"m":0.08},{"s":"Synergy","f":80,"m":0.07},{"s":"Synergy","f":85,"m":0.062},{"s":"Synergy","f":90,"m":0.06},{"s":"Synergy","f":95,"m":0.055},{"s":"Synergy","f":100,"m":0.05},
{"s":"PanOptix","f":0,"m":1},{"s":"PanOptix","f":2,"m":0.95},{"s":"PanOptix","f":4,"m":0.82},{"s":"PanOptix","f":6,"m":0.66},{"s":"PanOptix","f":8,"m":0.56,"lo":0.55,"hi":0.57},{"s":"PanOptix","f":10,"m":0.52,"lo":0.51,"hi":0.53},{"s":"PanOptix","f":12,"m":0.51,"lo":0.5,"hi":0.52},{"s":"PanOptix","f":15,"m":0.49,"lo":0.48,"hi":0.5},{"s":"PanOptix","f":18,"m":0.47,"lo":0.46,"hi":0.48},{"s":"PanOptix","f":20,"m":0.457,"lo":0.447,"hi":0.467},{"s":"PanOptix","f":25,"m":0.44,"lo":0.43,"hi":0.45},{"s":"PanOptix","f":30,"m":0.402,"lo":0.392,"hi":0.412},{"s":"PanOptix","f":35,"m":0.395,"lo":0.385,"hi":0.405},{"s":"PanOptix","f":40,"m":0.385,"lo":0.375,"hi":0.395},{"s":"PanOptix","f":45,"m":0.367,"lo":0.357,"hi":0.377},{"s":"PanOptix","f":50,"m":0.35,"lo":0.34,"hi":0.36},{"s":"PanOptix","f":55,"m":0.33,"lo":0.32,"hi":0.34},{"s":"PanOptix","f":60,"m":0.315,"lo":0.305,"hi":0.325},{"s":"PanOptix","f":65,"m":0.305,"lo":0.295,"hi":0.315},{"s":"PanOptix","f":70,"m":0.3,"lo":0.29,"hi":0.31},{"s":"PanOptix","f":75,"m":0.28,"lo":0.27,"hi":0.29},{"s":"PanOptix","f":80,"m":0.258,"lo":0.25,"hi":0.266},{"s":"PanOptix","f":85,"m":0.25,"lo":0.242,"hi":0.258},{"s":"PanOptix","f":90,"m":0.235,"lo":0.228,"hi":0.242},{"s":"PanOptix","f":95,"m":0.212,"lo":0.206,"hi":0.218},{"s":"PanOptix","f":100,"m":0.2,"lo":0.195,"hi":0.205},
{"s":"FineVision","f":0,"m":1},{"s":"FineVision","f":2,"m":0.95},{"s":"FineVision","f":4,"m":0.84},{"s":"FineVision","f":6,"m":0.72},{"s":"FineVision","f":8,"m":0.63,"lo":0.62,"hi":0.64},{"s":"FineVision","f":10,"m":0.6,"lo":0.59,"hi":0.61},{"s":"FineVision","f":12,"m":0.59,"lo":0.58,"hi":0.6},{"s":"FineVision","f":15,"m":0.57,"lo":0.56,"hi":0.58},{"s":"FineVision","f":18,"m":0.55,"lo":0.54,"hi":0.56},{"s":"FineVision","f":20,"m":0.545,"lo":0.535,"hi":0.555},{"s":"FineVision","f":25,"m":0.535,"lo":0.525,"hi":0.545},{"s":"FineVision","f":30,"m":0.515,"lo":0.505,"hi":0.525},{"s":"FineVision","f":35,"m":0.49,"lo":0.48,"hi":0.5},{"s":"FineVision","f":40,"m":0.467,"lo":0.457,"hi":0.477},{"s":"FineVision","f":45,"m":0.445,"lo":0.435,"hi":0.455},{"s":"FineVision","f":50,"m":0.425,"lo":0.415,"hi":0.435},{"s":"FineVision","f":55,"m":0.41,"lo":0.4,"hi":0.42},{"s":"FineVision","f":60,"m":0.395,"lo":0.385,"hi":0.405},{"s":"FineVision","f":65,"m":0.38,"lo":0.37,"hi":0.39},{"s":"FineVision","f":70,"m":0.37,"lo":0.36,"hi":0.38},{"s":"FineVision","f":75,"m":0.355,"lo":0.345,"hi":0.365},{"s":"FineVision","f":80,"m":0.34,"lo":0.33,"hi":0.35},{"s":"FineVision","f":85,"m":0.325,"lo":0.315,"hi":0.335},{"s":"FineVision","f":90,"m":0.31,"lo":0.3,"hi":0.32},{"s":"FineVision","f":95,"m":0.3,"lo":0.29,"hi":0.31},{"s":"FineVision","f":100,"m":0.29,"lo":0.28,"hi":0.3},
{"s":"AT Lisa tri","f":0,"m":1},{"s":"AT Lisa tri","f":2,"m":0.94},{"s":"AT Lisa tri","f":4,"m":0.78},{"s":"AT Lisa tri","f":5,"m":0.61},{"s":"AT Lisa tri","f":6,"m":0.53},{"s":"AT Lisa tri","f":8,"m":0.47},{"s":"AT Lisa tri","f":10,"m":0.46,"lo":0.445,"hi":0.475},{"s":"AT Lisa tri","f":12,"m":0.46,"lo":0.445,"hi":0.475},{"s":"AT Lisa tri","f":15,"m":0.41,"lo":0.38,"hi":0.44},{"s":"AT Lisa tri","f":18,"m":0.38,"lo":0.355,"hi":0.41},{"s":"AT Lisa tri","f":20,"m":0.38,"lo":0.355,"hi":0.415},{"s":"AT Lisa tri","f":23,"m":0.395,"lo":0.365,"hi":0.43},{"s":"AT Lisa tri","f":26,"m":0.388,"lo":0.355,"hi":0.422},{"s":"AT Lisa tri","f":30,"m":0.355,"lo":0.32,"hi":0.39},{"s":"AT Lisa tri","f":35,"m":0.33,"lo":0.29,"hi":0.365},{"s":"AT Lisa tri","f":40,"m":0.296,"lo":0.25,"hi":0.335},{"s":"AT Lisa tri","f":45,"m":0.282,"lo":0.24,"hi":0.322},{"s":"AT Lisa tri","f":50,"m":0.265,"lo":0.225,"hi":0.305},{"s":"AT Lisa tri","f":55,"m":0.24,"lo":0.19,"hi":0.275},{"s":"AT Lisa tri","f":60,"m":0.205,"lo":0.15,"hi":0.24},{"s":"AT Lisa tri","f":65,"m":0.18,"lo":0.13,"hi":0.225},{"s":"AT Lisa tri","f":70,"m":0.16,"lo":0.11,"hi":0.21},{"s":"AT Lisa tri","f":75,"m":0.14,"lo":0.092,"hi":0.195},{"s":"AT Lisa tri","f":80,"m":0.123,"lo":0.078,"hi":0.178},{"s":"AT Lisa tri","f":85,"m":0.108,"lo":0.068,"hi":0.162},{"s":"AT Lisa tri","f":90,"m":0.1,"lo":0.06,"hi":0.15},{"s":"AT Lisa tri","f":95,"m":0.094,"lo":0.055,"hi":0.14},{"s":"AT Lisa tri","f":100,"m":0.09,"lo":0.05,"hi":0.13},
{"s":"AT ELANA 841P","f":0,"m":1},{"s":"AT ELANA 841P","f":2,"m":0.94},{"s":"AT ELANA 841P","f":4,"m":0.79},{"s":"AT ELANA 841P","f":6,"m":0.58},{"s":"AT ELANA 841P","f":8,"m":0.5},{"s":"AT ELANA 841P","f":10,"m":0.48,"lo":0.465,"hi":0.495},{"s":"AT ELANA 841P","f":12,"m":0.475,"lo":0.46,"hi":0.49},{"s":"AT ELANA 841P","f":15,"m":0.46,"lo":0.445,"hi":0.475},{"s":"AT ELANA 841P","f":18,"m":0.44,"lo":0.425,"hi":0.455},{"s":"AT ELANA 841P","f":20,"m":0.445,"lo":0.43,"hi":0.46},{"s":"AT ELANA 841P","f":25,"m":0.455,"lo":0.44,"hi":0.47},{"s":"AT ELANA 841P","f":30,"m":0.442,"lo":0.427,"hi":0.457},{"s":"AT ELANA 841P","f":35,"m":0.43,"lo":0.415,"hi":0.445},{"s":"AT ELANA 841P","f":40,"m":0.416,"lo":0.401,"hi":0.431},{"s":"AT ELANA 841P","f":45,"m":0.405,"lo":0.39,"hi":0.42},{"s":"AT ELANA 841P","f":50,"m":0.4,"lo":0.386,"hi":0.414},{"s":"AT ELANA 841P","f":55,"m":0.39,"lo":0.377,"hi":0.403},{"s":"AT ELANA 841P","f":60,"m":0.38,"lo":0.368,"hi":0.392},{"s":"AT ELANA 841P","f":65,"m":0.365},{"s":"AT ELANA 841P","f":70,"m":0.348},{"s":"AT ELANA 841P","f":75,"m":0.34},{"s":"AT ELANA 841P","f":80,"m":0.33},{"s":"AT ELANA 841P","f":85,"m":0.32},{"s":"AT ELANA 841P","f":90,"m":0.31},{"s":"AT ELANA 841P","f":95,"m":0.3},{"s":"AT ELANA 841P","f":100,"m":0.29}
]
},
"bounds": "flush",
"spacing": 25,
"resolve": {"scale": {"color": "independent", "x": "independent", "y": "independent", "strokeDash": "independent", "strokeWidth": "independent"}, "legend": {"color": "independent"}},
"vconcat": [
{
  "width": 1245, "height": 62,
  "layer": [
    {"data": {"values": [{"edge": "top"}, {"edge": "bottom"}]}, "mark": {"type": "rule", "color": "#a6a6a6", "strokeWidth": 2}, "encoding": {"y": {"field": "edge", "type": "ordinal", "scale": {"type": "point", "domain": ["top", "bottom"], "padding": 0}, "axis": null}}},
    {"data": {"values": [{"col": 1, "label": "Condition 1"}, {"col": 2, "label": "Condition 2"}, {"col": 3, "label": "Condition3"}]}, "mark": {"type": "text", "font": "Lato", "fontWeight": "bold", "fontSize": 30, "baseline": "alphabetic", "color": "black"}, "encoding": {"x": {"field": "col", "type": "quantitative", "scale": {"domain": [0.3139, 3.4839], "nice": false, "zero": false}, "axis": null}, "text": {"field": "label"}}}
  ]
},
{
  "bounds": "flush", "spacing": 73,
  "resolve": {"scale": {"color": "independent", "x": "independent", "y": "independent", "strokeDash": "independent", "strokeWidth": "independent"}, "legend": {"color": "independent"}},
  "hconcat": [
    {"width": 69, "height": 282, "data": {"values": [{"label": "3 mm"}]}, "mark": {"type": "text", "font": "Lato", "fontSize": 31, "angle": 270, "align": "center", "baseline": "middle", "color": "black"}, "encoding": {"text": {"field": "label"}}},
    {
      "bounds": "flush", "spacing": 83,
      "resolve": {"scale": {"color": "independent", "x": "independent", "y": "independent", "strokeDash": "independent", "strokeWidth": "independent"}, "legend": {"color": "independent"}},
      "hconcat": [
        {"width": 307, "height": 224, "data": {"name": "a1"},
         "resolve": {"axis": {"x": "independent", "y": "independent"}},
         "layer": [
          {"transform": [{"fold": ["m", "lo", "hi"], "as": ["k", "v"]}],
           "mark": {"type": "line", "interpolate": "monotone"},
           "encoding": {
             "x": {"field": "f", "type": "quantitative", "scale": {"domain": [0, 100], "nice": false}, "axis": {"orient": "bottom", "values": [0, 20, 40, 60, 80, 100], "labelFontSize": 14, "labelPadding": 8, "title": "Spatial frequency [lp/mm]", "titleFontSize": 15.5, "titlePadding": 8}},
             "y": {"field": "v", "type": "quantitative", "scale": {"domain": [0, 1], "nice": false}, "axis": {"orient": "left", "values": [0, 0.2, 0.4, 0.6, 0.8, 1], "format": "~g", "labelFontSize": 14, "labelPadding": 10, "title": "MTF", "titleFontSize": 14, "titlePadding": 5}},
             "color": {"field": "s", "type": "nominal", "scale": {"domain": ["Synergy", "PanOptix", "FineVision", "AT Lisa tri", "AT ELANA 841P"], "range": ["#c81ec8", "#c9b92a", "#1f32e6", "#2de62d", "#f01e1e"]}, "legend": {"title": null, "symbolType": "M-1.18,0H3.91", "labelFontSize": 13, "labelOffset": 18, "rowPadding": 5.3}},
             "strokeDash": {"field": "k", "type": "nominal", "scale": {"domain": ["m", "lo", "hi"], "range": [[1, 0], [1.5, 1.5], [1.5, 1.5]]}, "legend": null},
             "strokeWidth": {"field": "k", "type": "ordinal", "scale": {"domain": ["m", "lo", "hi"], "range": [1.7, 1, 1]}, "legend": null}
           }},
          {"data": {"values": []}, "mark": "point",
           "encoding": {
             "x": {"field": "f", "type": "quantitative", "scale": {"domain": [0, 100], "nice": false}, "axis": {"orient": "top", "values": [0, 20, 40, 60, 80, 100], "labels": false, "title": null}},
             "y": {"field": "v", "type": "quantitative", "scale": {"domain": [0, 1], "nice": false}, "axis": {"orient": "right", "values": [0, 0.2, 0.4, 0.6, 0.8, 1], "labels": false, "title": null}}
           }}
         ]},
        {"width": 304, "height": 224, "data": {"name": "a2"},
         "resolve": {"axis": {"x": "independent", "y": "independent"}},
         "layer": [
          {"transform": [{"fold": ["m", "lo", "hi"], "as": ["k", "v"]}],
           "mark": {"type": "line", "interpolate": "monotone"},
           "encoding": {
             "x": {"field": "f", "type": "quantitative", "scale": {"domain": [0, 100], "nice": false}, "axis": {"orient": "bottom", "values": [0, 20, 40, 60, 80, 100], "labelFontSize": 14, "labelPadding": 8, "title": "Spatial frequency [lp/mm]", "titleFontSize": 15.5, "titlePadding": 8}},
             "y": {"field": "v", "type": "quantitative", "scale": {"domain": [0, 1], "nice": false}, "axis": {"orient": "left", "values": [0, 0.2, 0.4, 0.6, 0.8, 1], "format": "~g", "labelFontSize": 14, "labelPadding": 10, "title": "MTF", "titleFontSize": 14, "titlePadding": 5}},
             "color": {"field": "s", "type": "nominal", "scale": {"domain": ["Synergy", "PanOptix", "FineVision", "AT Lisa tri", "AT ELANA 841P"], "range": ["#c81ec8", "#c9b92a", "#1f32e6", "#2de62d", "#f01e1e"]}, "legend": {"title": null, "symbolType": "M-1.18,0H3.91", "labelFontSize": 13, "labelOffset": 18, "rowPadding": 5.3}},
             "strokeDash": {"field": "k", "type": "nominal", "scale": {"domain": ["m", "lo", "hi"], "range": [[1, 0], [1.5, 1.5], [1.5, 1.5]]}, "legend": null},
             "strokeWidth": {"field": "k", "type": "ordinal", "scale": {"domain": ["m", "lo", "hi"], "range": [1.7, 1, 1]}, "legend": null}
           }},
          {"data": {"values": []}, "mark": "point",
           "encoding": {
             "x": {"field": "f", "type": "quantitative", "scale": {"domain": [0, 100], "nice": false}, "axis": {"orient": "top", "values": [0, 20, 40, 60, 80, 100], "labels": false, "title": null}},
             "y": {"field": "v", "type": "quantitative", "scale": {"domain": [0, 1], "nice": false}, "axis": {"orient": "right", "values": [0, 0.2, 0.4, 0.6, 0.8, 1], "labels": false, "title": null}}
           }}
         ]},
        {"width": 306, "height": 224, "data": {"name": "a3"},
         "resolve": {"axis": {"x": "independent", "y": "independent"}},
         "layer": [
          {"transform": [{"fold": ["m", "lo", "hi"], "as": ["k", "v"]}],
           "mark": {"type": "line", "interpolate": "monotone"},
           "encoding": {
             "x": {"field": "f", "type": "quantitative", "scale": {"domain": [0, 100], "nice": false}, "axis": {"orient": "bottom", "values": [0, 20, 40, 60, 80, 100], "labelFontSize": 14, "labelPadding": 8, "title": "Spatial frequency [lp/mm]", "titleFontSize": 15.5, "titlePadding": 8}},
             "y": {"field": "v", "type": "quantitative", "scale": {"domain": [0, 1], "nice": false}, "axis": {"orient": "left", "values": [0, 0.2, 0.4, 0.6, 0.8, 1], "format": "~g", "labelFontSize": 14, "labelPadding": 10, "title": "MTF", "titleFontSize": 14, "titlePadding": 5}},
             "color": {"field": "s", "type": "nominal", "scale": {"domain": ["Synergy", "PanOptix", "FineVision", "AT Lisa tri", "AT ELANA 841P"], "range": ["#c81ec8", "#c9b92a", "#1f32e6", "#2de62d", "#f01e1e"]}, "legend": {"title": null, "symbolType": "M-1.18,0H3.91", "labelFontSize": 13, "labelOffset": 18, "rowPadding": 5.3}},
             "strokeDash": {"field": "k", "type": "nominal", "scale": {"domain": ["m", "lo", "hi"], "range": [[1, 0], [1.5, 1.5], [1.5, 1.5]]}, "legend": null},
             "strokeWidth": {"field": "k", "type": "ordinal", "scale": {"domain": ["m", "lo", "hi"], "range": [1.7, 1, 1]}, "legend": null}
           }},
          {"data": {"values": []}, "mark": "point",
           "encoding": {
             "x": {"field": "f", "type": "quantitative", "scale": {"domain": [0, 100], "nice": false}, "axis": {"orient": "top", "values": [0, 20, 40, 60, 80, 100], "labels": false, "title": null}},
             "y": {"field": "v", "type": "quantitative", "scale": {"domain": [0, 1], "nice": false}, "axis": {"orient": "right", "values": [0, 0.2, 0.4, 0.6, 0.8, 1], "labels": false, "title": null}}
           }}
         ]}
      ]
    }
  ]
},
{
  "width": 1245, "height": 283,
  "data": {"values": [{"edge": "sep"}]},
  "mark": {"type": "rule", "color": "#a6a6a6", "strokeWidth": 2},
  "encoding": {"y": {"field": "edge", "type": "ordinal", "scale": {"type": "point", "domain": ["top", "sep"], "padding": 0}, "axis": null}}
},
{
  "bounds": "flush", "spacing": 70,
  "resolve": {"scale": {"color": "independent", "x": "independent", "y": "independent", "strokeDash": "independent", "strokeWidth": "independent"}, "legend": {"color": "independent"}},
  "hconcat": [
    {"width": 69, "height": 244, "data": {"values": [{"label": "4.5 mm"}]}, "mark": {"type": "text", "font": "Lato", "fontSize": 31, "angle": 270, "align": "center", "baseline": "middle", "color": "black"}, "encoding": {"text": {"field": "label"}}},
    {
      "bounds": "flush", "spacing": 110,
      "resolve": {"scale": {"color": "independent", "x": "independent", "y": "independent", "strokeDash": "independent", "strokeWidth": "independent"}, "legend": {"color": "independent"}},
      "hconcat": [
        {"width": 278, "height": 204, "data": {"name": "b1"},
         "resolve": {"axis": {"x": "independent", "y": "independent"}},
         "layer": [
          {"transform": [{"fold": ["m", "lo", "hi"], "as": ["k", "v"]}],
           "mark": {"type": "line", "interpolate": "monotone"},
           "encoding": {
             "x": {"field": "f", "type": "quantitative", "scale": {"domain": [0, 100], "nice": false}, "axis": {"orient": "bottom", "values": [0, 20, 40, 60, 80, 100], "labelFontSize": 13, "labelPadding": 12, "title": "Spatial frequency [lp/mm]", "titleFontSize": 14.5, "titlePadding": 5}},
             "y": {"field": "v", "type": "quantitative", "scale": {"domain": [0, 1], "nice": false}, "axis": {"orient": "left", "values": [0, 0.2, 0.4, 0.6, 0.8, 1], "format": "~g", "labelFontSize": 13, "labelPadding": 9.5, "title": "MTF", "titleFontSize": 12.5, "titlePadding": 6}},
             "color": {"field": "s", "type": "nominal", "scale": {"domain": ["Synergy", "PanOptix", "FineVision", "AT Lisa tri", "AT ELANA 841P"], "range": ["#c81ec8", "#c9b92a", "#1f32e6", "#2de62d", "#f01e1e"]}, "legend": {"title": null, "symbolType": "M-1.18,0H3.55", "labelFontSize": 12, "labelOffset": 16, "rowPadding": 3.8}},
             "strokeDash": {"field": "k", "type": "nominal", "scale": {"domain": ["m", "lo", "hi"], "range": [[1, 0], [1.5, 1.5], [1.5, 1.5]]}, "legend": null},
             "strokeWidth": {"field": "k", "type": "ordinal", "scale": {"domain": ["m", "lo", "hi"], "range": [1.7, 1, 1]}, "legend": null}
           }},
          {"data": {"values": []}, "mark": "point",
           "encoding": {
             "x": {"field": "f", "type": "quantitative", "scale": {"domain": [0, 100], "nice": false}, "axis": {"orient": "top", "values": [0, 20, 40, 60, 80, 100], "labels": false, "title": null}},
             "y": {"field": "v", "type": "quantitative", "scale": {"domain": [0, 1], "nice": false}, "axis": {"orient": "right", "values": [0, 0.2, 0.4, 0.6, 0.8, 1], "labels": false, "title": null}}
           }}
         ]},
        {"width": 278, "height": 204, "data": {"name": "b2"},
         "resolve": {"axis": {"x": "independent", "y": "independent"}},
         "layer": [
          {"transform": [{"fold": ["m", "lo", "hi"], "as": ["k", "v"]}],
           "mark": {"type": "line", "interpolate": "monotone"},
           "encoding": {
             "x": {"field": "f", "type": "quantitative", "scale": {"domain": [0, 100], "nice": false}, "axis": {"orient": "bottom", "values": [0, 20, 40, 60, 80, 100], "labelFontSize": 13, "labelPadding": 12, "title": "Spatial frequency [lp/mm]", "titleFontSize": 14.5, "titlePadding": 5}},
             "y": {"field": "v", "type": "quantitative", "scale": {"domain": [0, 1], "nice": false}, "axis": {"orient": "left", "values": [0, 0.2, 0.4, 0.6, 0.8, 1], "format": "~g", "labelFontSize": 13, "labelPadding": 9.5, "title": "MTF", "titleFontSize": 12.5, "titlePadding": 6}},
             "color": {"field": "s", "type": "nominal", "scale": {"domain": ["Synergy", "PanOptix", "FineVision", "AT Lisa tri", "AT ELANA 841P"], "range": ["#c81ec8", "#c9b92a", "#1f32e6", "#2de62d", "#f01e1e"]}, "legend": {"title": null, "symbolType": "M-1.18,0H3.55", "labelFontSize": 12, "labelOffset": 16, "rowPadding": 3.8}},
             "strokeDash": {"field": "k", "type": "nominal", "scale": {"domain": ["m", "lo", "hi"], "range": [[1, 0], [1.5, 1.5], [1.5, 1.5]]}, "legend": null},
             "strokeWidth": {"field": "k", "type": "ordinal", "scale": {"domain": ["m", "lo", "hi"], "range": [1.7, 1, 1]}, "legend": null}
           }},
          {"data": {"values": []}, "mark": "point",
           "encoding": {
             "x": {"field": "f", "type": "quantitative", "scale": {"domain": [0, 100], "nice": false}, "axis": {"orient": "top", "values": [0, 20, 40, 60, 80, 100], "labels": false, "title": null}},
             "y": {"field": "v", "type": "quantitative", "scale": {"domain": [0, 1], "nice": false}, "axis": {"orient": "right", "values": [0, 0.2, 0.4, 0.6, 0.8, 1], "labels": false, "title": null}}
           }}
         ]},
        {"width": 290, "height": 212, "data": {"name": "b3"},
         "resolve": {"axis": {"x": "independent", "y": "independent"}},
         "layer": [
          {"transform": [{"fold": ["m", "lo", "hi"], "as": ["k", "v"]}],
           "mark": {"type": "line", "interpolate": "monotone"},
           "encoding": {
             "x": {"field": "f", "type": "quantitative", "scale": {"domain": [0, 100], "nice": false}, "axis": {"orient": "bottom", "values": [0, 20, 40, 60, 80, 100], "labelFontSize": 13.5, "labelPadding": 12, "title": "Spatial frequency [lp/mm]", "titleFontSize": 15, "titlePadding": 4}},
             "y": {"field": "v", "type": "quantitative", "scale": {"domain": [0, 1], "nice": false}, "axis": {"orient": "left", "values": [0, 0.2, 0.4, 0.6, 0.8, 1], "format": "~g", "labelFontSize": 13.5, "labelPadding": 9, "title": "MTF", "titleFontSize": 13, "titlePadding": 7}},
             "color": {"field": "s", "type": "nominal", "scale": {"domain": ["Synergy", "PanOptix", "FineVision", "AT Lisa tri", "AT ELANA 841P"], "range": ["#c81ec8", "#c9b92a", "#1f32e6", "#2de62d", "#f01e1e"]}, "legend": {"title": null, "symbolType": "M-1.18,0H3.73", "labelFontSize": 12.5, "labelOffset": 17, "rowPadding": 4.2}},
             "strokeDash": {"field": "k", "type": "nominal", "scale": {"domain": ["m", "lo", "hi"], "range": [[1, 0], [1.5, 1.5], [1.5, 1.5]]}, "legend": null},
             "strokeWidth": {"field": "k", "type": "ordinal", "scale": {"domain": ["m", "lo", "hi"], "range": [1.7, 1, 1]}, "legend": null}
           }},
          {"data": {"values": []}, "mark": "point",
           "encoding": {
             "x": {"field": "f", "type": "quantitative", "scale": {"domain": [0, 100], "nice": false}, "axis": {"orient": "top", "values": [0, 20, 40, 60, 80, 100], "labels": false, "title": null}},
             "y": {"field": "v", "type": "quantitative", "scale": {"domain": [0, 1], "nice": false}, "axis": {"orient": "right", "values": [0, 0.2, 0.4, 0.6, 0.8, 1], "labels": false, "title": null}}
           }}
         ]}
      ]
    }
  ]
}
]
}
